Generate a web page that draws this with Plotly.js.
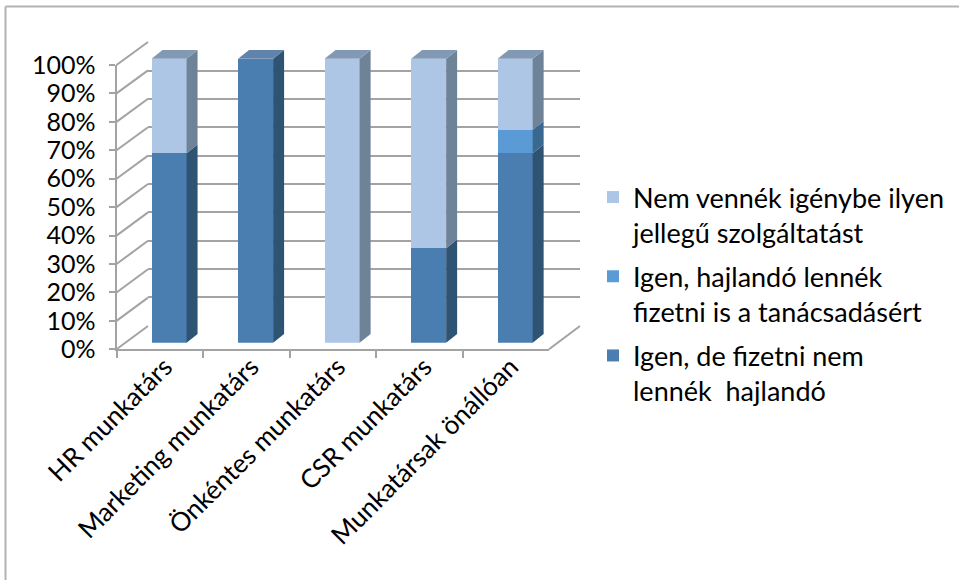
<!DOCTYPE html>
<html>
<head>
<meta charset="utf-8">
<script src="https://cdn.plot.ly/plotly-3.0.1.min.js"></script>
<style>html,body{margin:0;padding:0;background:#fff;}#chart{width:959px;height:580px;}</style>
</head>
<body>
<div id="chart"></div>
<script>
// ---- data ----
const categories = ['HR munkatárs', 'Marketing munkatárs', 'Önkéntes munkatárs', 'CSR munkatárs', 'Munkatársak önállóan'];
const seriesNames = [
  'Igen, de fizetni nem<br>lennék  hajlandó',
  'Igen, hajlandó lennék<br>fizetni is a tanácsadásért',
  'Nem vennék igénybe ilyen<br>jellegű szolgáltatást'
];
const igenDeNemFizetne = [0.667, 1.0, 0.0, 0.333, 0.667];
const igenFizetne = [0.0, 0.0, 0.0, 0.0, 0.083];
const nemVenneIgenybe = [0.333, 0.0, 1.0, 0.667, 0.25];
const yTickVals = [0, 0.1, 0.2, 0.3, 0.4, 0.5, 0.6, 0.7, 0.8, 0.9, 1.0];

// ---- styles ----
const frontColors = ['#4a7eb1', '#5b9bd5', '#adc6e5'];
const sideColors = ['#2f5373', '#3a6890', '#6f8398'];
const topColors = ['#5f83ad', '#5f83ad', '#8199b5'];
const W = 959, H = 580;
const fx = px => px / W;
const fy = py => 1 - py / H;
const gridColor = '#a3a3a3';
const font = 'Lato, "Open Sans", sans-serif';

const backX = [fx(148), fx(580)], backY = [fy(326), fy(42)];
const barX = [fx(125.8), fx(558.4)], barY = [fy(342.7), fy(342.7 - 1.05 * 284)];
const frontX = [fx(116.5), fx(549)], frontY = [fy(349.3), fy(65)];
const barWidth = 0.405, depthX = 0.127, depthY = 0.0306;

const seriesValues = [igenDeNemFizetne, igenFizetne, nemVenneIgenybe];
const traces = [];
// axis carrier for the back wall (no marks)
traces.push({type: 'scatter', mode: 'none', x: [0, 1], y: [0, 1], xaxis: 'x', yaxis: 'y',
  showlegend: false, hoverinfo: 'skip'});
seriesValues.forEach((vals, s) => traces.push({
  type: 'bar', x: categories, y: vals, name: seriesNames[s],
  xaxis: 'x2', yaxis: 'y2', width: barWidth, legendrank: 10 - s, legendgroup: 'g' + s,
  marker: {color: frontColors[s], line: {width: 0}}, hoverinfo: 'x+y+name'
}));
// axis carrier for the front axes (no marks)
traces.push({type: 'scatter', mode: 'none', x: categories, y: igenDeNemFizetne, xaxis: 'x3', yaxis: 'y3',
  showlegend: false, hoverinfo: 'skip'});

const shapes = [];
yTickVals.forEach(v => {
  shapes.push({type: 'line', xref: 'paper', yref: 'paper', layer: 'below',
    x0: frontX[0], y0: frontY[0] + v * (frontY[1] - frontY[0]),
    x1: backX[0], y1: backY[0] + v * (backY[1] - backY[0]),
    line: {color: gridColor, width: 2}});
});
shapes.push({type: 'line', xref: 'paper', yref: 'paper', layer: 'below',
  x0: frontX[1], y0: frontY[0], x1: backX[1], y1: backY[0], line: {color: gridColor, width: 2}});
shapes.push({type: 'line', xref: 'paper', yref: 'paper', x0: fx(5.5), y0: fy(6.5), x1: 1, y1: fy(6.5), line: {color: '#b3b3b3', width: 2}});
shapes.push({type: 'line', xref: 'paper', yref: 'paper', x0: fx(5.5), y0: fy(6.5), x1: fx(5.5), y1: 0, line: {color: '#b3b3b3', width: 2}});

categories.forEach((c, i) => {
  let base = 0, topS = -1;
  const xr = i + barWidth / 2, xl = i - barWidth / 2;
  seriesValues.forEach((vals, s) => {
    const v = vals[i];
    if (v <= 0) return;
    shapes.push({type: 'path', xref: 'x2', yref: 'y2', layer: 'above', line: {width: 0},
      fillcolor: sideColors[s],
      path: `M${xr},${base} L${xr},${base + v} L${xr + depthX},${base + v + depthY} L${xr + depthX},${base + depthY} Z`});
    base += v; topS = s;
  });
  if (topS >= 0) {
    shapes.push({type: 'path', xref: 'x2', yref: 'y2', layer: 'above', line: {width: 0},
      fillcolor: topColors[topS],
      path: `M${xl},${base} L${xr},${base} L${xr + depthX},${base + depthY} L${xl + depthX},${base + depthY} Z`});
  }
});

const layout = {
  width: W, height: H, margin: {l: 0, r: 0, t: 0, b: 0, pad: 0},
  paper_bgcolor: '#ffffff', plot_bgcolor: 'rgba(0,0,0,0)',
  barmode: 'stack', bargap: 0,
  font: {family: font, size: 24, color: '#000000'},
  showlegend: true,
  legend: {x: fx(593), y: fy(173), xanchor: 'left', yanchor: 'top', traceorder: 'grouped',
    tracegroupgap: 6, valign: 'top', bgcolor: 'rgba(0,0,0,0)', font: {family: font, size: 27, color: '#000'}},
  xaxis: {domain: backX, range: [0, 1], visible: false, anchor: 'y', fixedrange: true},
  yaxis: {domain: backY, range: [-0.001, 1.001], anchor: 'x', showgrid: true, tick0: 0, dtick: 0.1,
    gridcolor: gridColor, gridwidth: 2, zeroline: false, showline: false, showticklabels: false, ticks: '', fixedrange: true},
  xaxis2: {domain: barX, type: 'category', categoryorder: 'array', categoryarray: categories,
    range: [-0.5, 4.5], visible: false, anchor: 'y2', fixedrange: true},
  yaxis2: {domain: barY, range: [0, 1.05], visible: false, anchor: 'x2', fixedrange: true},
  xaxis3: {domain: frontX, type: 'category', categoryorder: 'array', categoryarray: categories,
    range: [-0.5, 4.5], anchor: 'y3', tickson: 'boundaries', ticks: 'outside', ticklen: 7, tickwidth: 2,
    tickcolor: gridColor, showline: true, linecolor: gridColor, linewidth: 2, showgrid: false,
    tickangle: -45, ticklabelstandoff: -10, ticklabelshift: 5,
    tickfont: {family: font, size: 26, color: '#000'}, fixedrange: true},
  yaxis3: {domain: frontY, range: [0, 1], anchor: 'x3', tickvals: yTickVals, tickformat: '.0%',
    ticks: 'outside', ticklen: 6, tickwidth: 2, tickcolor: gridColor, showline: true, linecolor: gridColor,
    linewidth: 2, showgrid: false, zeroline: false, ticklabelstandoff: 8,
    tickfont: {family: font, size: 25, color: '#000'}, fixedrange: true},
  shapes: shapes
};

Plotly.newPlot('chart', traces, layout, {displayModeBar: false, staticPlot: true});
</script>
</body>
</html>
